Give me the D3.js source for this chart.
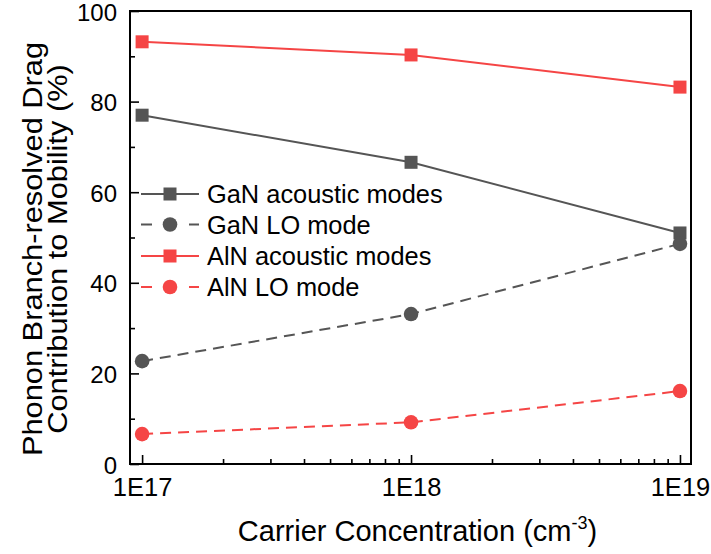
<!DOCTYPE html>
<html><head><meta charset="utf-8">
<script src="https://cdn.jsdelivr.net/npm/d3@7"></script>
<style>body{margin:0;background:#fff}svg{display:block}text{font-family:"Liberation Sans",Arial,sans-serif;fill:#000}</style>
</head><body>
<svg id="c" width="711" height="554"></svg>
<script>
const concentrations = [1e17, 1e18, 1e19];
const ganAcoustic = [77.0, 66.6, 51.0];
const ganLO = [22.7, 33.1, 48.6];
const alnAcoustic = [93.2, 90.3, 83.2];
const alnLO = [6.6, 9.2, 16.1];
const seriesNames = ["GaN acoustic modes", "GaN LO mode", "AlN acoustic modes", "AlN LO mode"];
const xTickLabels = ["1E17", "1E18", "1E19"];
const yTicks = [0, 20, 40, 60, 80, 100];

const grey = "#555555", red = "#f54545";
const series = [
  {name: seriesNames[0], values: ganAcoustic, color: grey, dash: null, marker: "square"},
  {name: seriesNames[1], values: ganLO, color: grey, dash: "11,7", marker: "circle"},
  {name: seriesNames[2], values: alnAcoustic, color: red, dash: null, marker: "square"},
  {name: seriesNames[3], values: alnLO, color: red, dash: "11,7", marker: "circle"}
];

const L = 130, R = 691, T = 11, B = 464;
const svg = d3.select("#c");
const x = d3.scaleLog().domain([Math.pow(10, 16.955), Math.pow(10, 19.041)]).range([L, R]);
const y = d3.scaleLinear().domain([0, 100]).range([B, T]);

// lines
const line = d3.line().x((d, i) => x(concentrations[i])).y(d => y(d));
series.forEach(s => {
  svg.append("path").attr("d", line(s.values)).attr("fill", "none")
    .attr("stroke", s.color).attr("stroke-width", 2)
    .attr("stroke-dasharray", s.dash);
});
// markers
function marker(g, type, cx, cy, color) {
  if (type === "square") {
    g.append("rect").attr("x", cx - 6.5).attr("y", cy - 6.5).attr("width", 13).attr("height", 13).attr("fill", color);
  } else {
    g.append("circle").attr("cx", cx).attr("cy", cy).attr("r", 7.3).attr("fill", color);
  }
}
series.forEach(s => {
  s.values.forEach((v, i) => marker(svg, s.marker, x(concentrations[i]), y(v), s.color));
});

// axes
const xAxis = d3.axisBottom(x).tickValues(concentrations).tickSize(-9).tickPadding(14)
  .tickFormat((d, i) => xTickLabels[i]);
const gx = svg.append("g").attr("transform", `translate(0,${B})`).call(xAxis);
const minors = [];
[1e16, 1e17, 1e18].forEach(b => { for (let k = 2; k <= 9; k++) minors.push(b * k); });
const minorVals = minors.filter(v => x(v) > L && x(v) < R);
svg.append("g").attr("transform", `translate(0,${B})`)
  .call(d3.axisBottom(x).tickValues(minorVals).tickSize(-5).tickFormat(""))
  .call(g => g.select(".domain").remove());

const gy = svg.append("g").attr("transform", `translate(${L},0)`)
  .call(d3.axisLeft(y).tickValues(yTicks).tickSize(-9).tickPadding(13));
svg.append("g").attr("transform", `translate(${L},0)`)
  .call(d3.axisLeft(y).tickValues([10, 30, 50, 70, 90]).tickSize(-5).tickFormat(""))
  .call(g => g.select(".domain").remove());

svg.selectAll(".tick line").attr("stroke", "#000").attr("stroke-width", 1.6);
svg.selectAll(".domain").remove();
gy.selectAll(".tick text").style("font-size", "24px").attr("fill", "#000").attr("dy", "0.38em");
gx.selectAll(".tick text").style("font-size", "25.5px").attr("fill", "#000");

// frame
svg.append("rect").attr("x", L).attr("y", T).attr("width", R - L).attr("height", B - T)
  .attr("fill", "none").attr("stroke", "#000").attr("stroke-width", 2);

// axis titles
const xt = svg.append("text").attr("x", 417.5).attr("y", 541).attr("text-anchor", "middle").style("font-size", "29px");
xt.append("tspan").text("Carrier Concentration (cm");
xt.append("tspan").attr("dy", -12).style("font-size", "18px").text("-3");
xt.append("tspan").attr("dy", 12).text(")");

const yt = svg.append("g").attr("transform", `translate(0,249) rotate(-90) scale(1.1,1)`);
yt.append("text").attr("x", 0).attr("y", 42).attr("text-anchor", "middle").style("font-size", "28px").text("Phonon Branch-resolved Drag");
yt.append("text").attr("x", 0).attr("y", 67).attr("text-anchor", "middle").style("font-size", "28px").text("Contribution to Mobility (%)");

// legend
const legY = [194, 224.5, 256, 287];
series.forEach((s, i) => {
  const g = svg.append("g");
  g.append("line").attr("x1", 141).attr("x2", 199).attr("y1", legY[i]).attr("y2", legY[i])
    .attr("stroke", s.color).attr("stroke-width", 2).attr("stroke-dasharray", s.dash ? "11,13" : null);
  marker(g, s.marker, 170, legY[i], s.color);
  g.append("text").attr("x", 207).attr("y", legY[i]).attr("dy", "0.36em").style("font-size", "25.4px").text(s.name);
});
</script>
</body></html>
